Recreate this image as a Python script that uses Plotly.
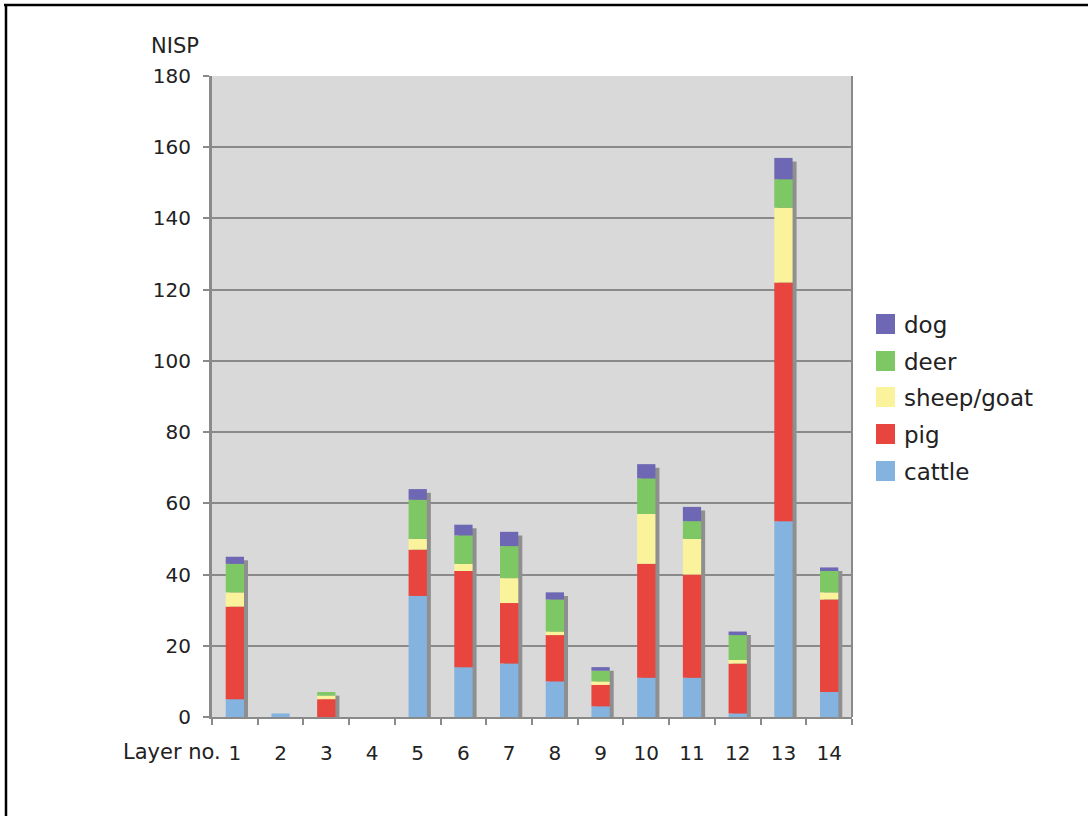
import plotly.graph_objects as go

layers = ["1", "2", "3", "4", "5", "6", "7", "8", "9", "10", "11", "12", "13", "14"]
cattle = [5, 1, 0, 0, 34, 14, 15, 10, 3, 11, 11, 1, 55, 7]
pig = [26, 0, 5, 0, 13, 27, 17, 13, 6, 32, 29, 14, 67, 26]
sheep_goat = [4, 0, 1, 0, 3, 2, 7, 1, 1, 14, 10, 1, 21, 2]
deer = [8, 0, 1, 0, 11, 8, 9, 9, 3, 10, 5, 7, 8, 6]
dog = [2, 0, 0, 0, 3, 3, 4, 2, 1, 4, 4, 1, 6, 1]

series_names = ["cattle", "pig", "sheep/goat", "deer", "dog"]
series_values = [cattle, pig, sheep_goat, deer, dog]
series_colors = ["#85B3E0", "#E8453F", "#FBF39B", "#7DC765", "#6E67B4"]

W, H = 1088, 816
L, R, T, B = 212, 852, 76, 717


def px(x):
    return (x - L) / (R - L)


def py(y):
    return (B - y) / (B - T)


FONT = "DejaVu Sans"
fig = go.Figure()

totals = [sum(v) for v in zip(*series_values)]
BAR_W = 0.40
fig.add_trace(go.Bar(
    x=layers, y=[max(0, t - 1.0) for t in totals], base=0,
    width=BAR_W, offset=-BAR_W / 2 + 0.0875,
    marker=dict(color="#8f8f8f", line=dict(width=0)),
    showlegend=False, hoverinfo="skip"))

cum = [0] * len(layers)
for name, vals, col in zip(series_names, series_values, series_colors):
    fig.add_trace(go.Bar(
        x=layers, y=vals, base=list(cum), name=name,
        width=BAR_W, offset=-BAR_W / 2,
        marker=dict(color=col, line=dict(width=0)),
        showlegend=False))
    cum = [c + v for c, v in zip(cum, vals)]

shapes = []
annotations = []
# manual legend (dog at top)
row_y = [324, 361, 397, 434, 471]
for i, (name, col) in enumerate(zip(series_names[::-1], series_colors[::-1])):
    yc = row_y[i]
    shapes.append(dict(type="rect", xref="paper", yref="paper",
                       x0=px(876), x1=px(895), y0=py(yc + 10), y1=py(yc - 10),
                       fillcolor=col, line=dict(width=0)))
    annotations.append(dict(text=name, xref="paper", yref="paper",
                            x=px(902), y=py(yc + 1), xanchor="left", yanchor="middle",
                            showarrow=False, font=dict(family=FONT, size=23, color="#222")))

annotations.append(dict(text="NISP", xref="paper", yref="paper", x=px(175), y=py(46),
                        xanchor="center", yanchor="middle", showarrow=False,
                        font=dict(family=FONT, size=21, color="#222")))
annotations.append(dict(text="Layer no.", xref="paper", yref="paper", x=px(223), y=py(752),
                        xanchor="right", yanchor="middle", showarrow=False,
                        font=dict(family=FONT, size=21, color="#222")))

# right border of plot area
shapes.append(dict(type="line", xref="paper", yref="paper", x0=1, x1=1, y0=0, y1=1,
                   line=dict(color="#8a8a8a", width=2)))
# image frame (top and left)
shapes.append(dict(type="line", xref="paper", yref="paper", x0=px(4), x1=px(1100),
                   y0=py(5), y1=py(5), line=dict(color="#000", width=2.5)))
shapes.append(dict(type="line", xref="paper", yref="paper", x0=px(6), x1=px(6),
                   y0=py(4), y1=py(830), line=dict(color="#000", width=2.5)))

fig.update_layout(
    width=W, height=H,
    margin=dict(l=L, r=W - R, t=T, b=H - B, pad=0),
    barmode="overlay",
    paper_bgcolor="white", plot_bgcolor="#D9D9D9",
    font=dict(family=FONT, size=20, color="#222"),
    showlegend=False,
    shapes=shapes, annotations=annotations,
    xaxis=dict(type="category", categoryorder="array", categoryarray=layers,
               showline=True, linecolor="#8a8a8a", linewidth=2,
               ticks="outside", tickson="boundaries", ticklen=6, tickcolor="#8a8a8a",
               tickwidth=1.5, showgrid=False, ticklabelstandoff=17,
               tickfont=dict(family=FONT, size=20, color="#222")),
    yaxis=dict(range=[0, 180], tickvals=list(range(0, 181, 20)),
               showline=True, linecolor="#8a8a8a", linewidth=3,
               ticks="outside", ticklen=6, tickcolor="#8a8a8a", tickwidth=1.5,
               showgrid=True, gridcolor="#8a8a8a", gridwidth=1.5, zeroline=False,
               ticklabelstandoff=8,
               tickfont=dict(family=FONT, size=20, color="#222")),
)

fig.write_html("out.html", config={"displayModeBar": False},
               post_script="document.body.style.margin='0';document.body.style.overflow='hidden';")
